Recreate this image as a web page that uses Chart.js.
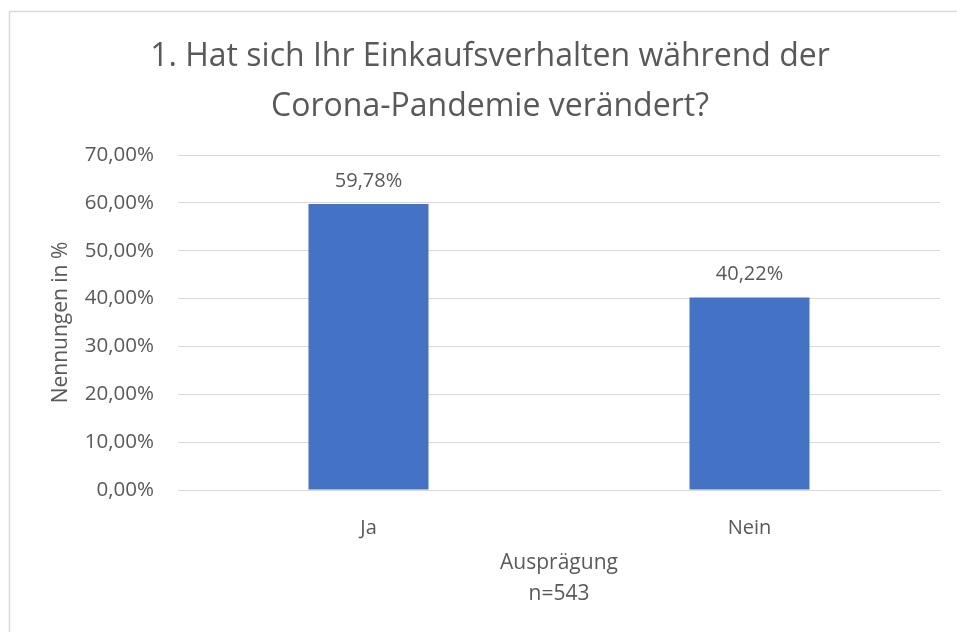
<!DOCTYPE html>
<html>
<head>
<meta charset="utf-8">
<script src="https://cdn.jsdelivr.net/npm/chart.js@4"></script>
<style>
  html, body { margin: 0; padding: 0; background: #fff; }
  #wrap { width: 957px; height: 632px; position: relative; }
</style>
</head>
<body>
<div id="wrap"><canvas id="einkaufChart"></canvas></div>
<script>
const categories = ["Ja", "Nein"];
const shares = [59.78, 40.22];
const yTicks = [0, 10, 20, 30, 40, 50, 60, 70];

const titleLines = ["1. Hat sich Ihr Einkaufsverhalten während der", "Corona-Pandemie verändert?"];
const yTitle = "Nennungen in %";
const xTitle = ["Ausprägung", "n=543"];

const textColor = "#595959";
const gridColor = "#d9d9d9";
const fontFamily = "'Open Sans', 'Noto Sans', sans-serif";

function formatPercent(v) {
  return v.toFixed(2).replace(".", ",") + "%";
}

// Rahmen um das Diagramm (nur oben/links sichtbar im Bild)
const frame = {
  id: "frame",
  beforeDraw(chart) {
    const ctx = chart.ctx;
    ctx.save();
    ctx.fillStyle = "#fff";
    ctx.fillRect(0, 0, chart.width, chart.height);
    ctx.strokeStyle = gridColor;
    ctx.lineWidth = 1.5;
    ctx.strokeRect(9.5, 11.5, chart.width + 10, chart.height + 10);
    ctx.restore();
  },
};

// Werte über den Balken
const valueLabels = {
  id: "valueLabels",
  afterDatasetsDraw(chart) {
    const ctx = chart.ctx;
    const meta = chart.getDatasetMeta(0);
    ctx.save();
    ctx.fillStyle = textColor;
    ctx.font = "20px " + fontFamily;
    ctx.textAlign = "center";
    ctx.textBaseline = "middle";
    meta.data.forEach((bar, i) => {
      const { x, y } = bar.getProps(["x", "y"], true);
      ctx.fillText(formatPercent(shares[i]), x, y - 23);
    });
    ctx.restore();
  },
};

new Chart(document.getElementById("einkaufChart"), {
  type: "bar",
  data: {
    labels: categories,
    datasets: [
      {
        data: shares,
        backgroundColor: "#4472c4",
        borderWidth: 0,
        categoryPercentage: 1,
        barPercentage: 0.315,
      },
    ],
  },
  options: {
    responsive: true,
    maintainAspectRatio: false,
    animation: false,
    layout: { padding: { left: 40, right: 17, top: 0, bottom: 0 } },
    plugins: {
      legend: { display: false },
      tooltip: { enabled: false },
      title: {
        display: true,
        text: titleLines,
        color: textColor,
        font: { family: fontFamily, size: 32, weight: "normal", lineHeight: 1.56 },
        padding: { top: 32, bottom: 23.2 },
      },
    },
    scales: {
      x: {
        afterFit: (scale) => { scale.height = 142; },
        grid: { display: false },
        border: { display: true, color: gridColor, width: 1 },
        ticks: {
          color: textColor,
          padding: 18,
          font: { family: fontFamily, size: 20 },
        },
        title: {
          display: true,
          text: xTitle,
          color: textColor,
          font: { family: fontFamily, size: 21, lineHeight: 1.5 },
          padding: { top: 0, bottom: 22 },
        },
      },
      y: {
        min: 0,
        max: yTicks[yTicks.length - 1],
        afterFit: (scale) => { scale.width = 138; },
        afterBuildTicks: (scale) => { scale.ticks = yTicks.map((v) => ({ value: v })); },
        grid: { color: gridColor, lineWidth: 1, drawTicks: false },
        border: { display: false },
        ticks: {
          color: textColor,
          padding: 24,
          font: { family: fontFamily, size: 20.5 },
          callback: (v) => formatPercent(v),
        },
        title: {
          display: true,
          text: yTitle,
          color: textColor,
          font: { family: fontFamily, size: 21 },
          padding: { top: 8, bottom: 0 },
        },
      },
    },
  },
  plugins: [frame, valueLabels],
});
</script>
</body>
</html>
